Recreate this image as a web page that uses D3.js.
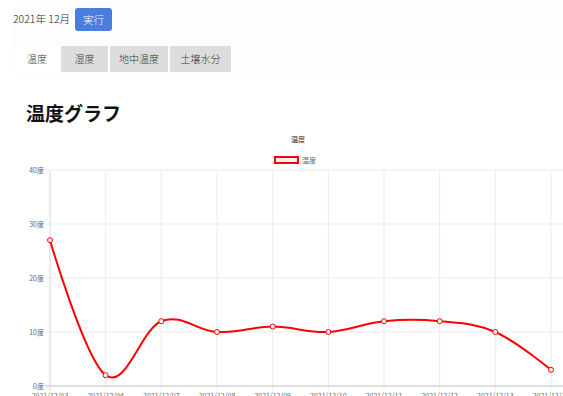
<!DOCTYPE html>
<html>
<head>
<meta charset="utf-8">
<script src="https://cdn.jsdelivr.net/npm/d3@7"></script>
<style>
  body { margin: 0; background: #fff; font-family: "Noto Sans CJK JP", "Noto Sans", sans-serif; }
  svg { position: absolute; left: 0; top: 0; }
</style>
</head>
<body>
<svg id="chart" width="563" height="396"></svg>
<script>
'use strict';

var labels = ['2021/12/03', '2021/12/04', '2021/12/07', '2021/12/08', '2021/12/09',
              '2021/12/10', '2021/12/11', '2021/12/12', '2021/12/13', '2021/12/14'];
var temps = [27, 2, 12, 10, 11, 10, 12, 12, 10, 3];
var yTicks = [0, 10, 20, 30, 40];
var tabs = ['温度', '湿度', '地中温度', '土壌水分'];
var tabWidths = [44, 47, 58, 61];

var svg = d3.select('#chart');
var jp = '"Noto Sans CJK JP", sans-serif';

// header panel
svg.append('rect').attr('x', 13).attr('y', 6).attr('width', 550).attr('height', 67).attr('fill', '#fdfdfd');

svg.append('text')
  .attr('x', 13).attr('y', 23)
  .attr('font-family', jp).attr('font-size', 10.5).attr('font-weight', 300).attr('fill', '#222')
  .text('2021年 12月');

svg.append('rect')
  .attr('x', 75).attr('y', 8).attr('width', 37).attr('height', 23).attr('rx', 3)
  .attr('fill', '#4a7ddf');
svg.append('text')
  .attr('x', 93.5).attr('y', 23.5).attr('text-anchor', 'middle')
  .attr('font-family', jp).attr('font-size', 10.5).attr('font-weight', 300).attr('fill', '#fff')
  .text('実行');

// tabs
var tx = 15;
tabs.forEach(function(t, i) {
  var w = tabWidths[i];
  svg.append('rect')
    .attr('x', tx).attr('y', 46).attr('width', w).attr('height', 26)
    .attr('fill', i === 0 ? '#fff' : '#dddddd');
  svg.append('text')
    .attr('x', tx + w / 2).attr('y', 62.5).attr('text-anchor', 'middle')
    .attr('font-family', jp).attr('font-size', 10).attr('font-weight', 300).attr('fill', '#333')
    .text(t);
  tx += w + 2;
});

// page title
svg.append('text')
  .attr('x', 26).attr('y', 121)
  .attr('font-family', jp).attr('font-size', 19).attr('font-weight', 'bold').attr('fill', '#111')
  .text('温度グラフ');

// chart
var x = d3.scalePoint().domain(labels).range([50, 551]);
var y = d3.scaleLinear().domain([0, 40]).range([386, 170]);

var grid = svg.append('g');
grid.selectAll('line.v').data(labels).enter().append('line')
  .attr('x1', function(d) { return x(d); }).attr('x2', function(d) { return x(d); })
  .attr('y1', y(40)).attr('y2', y(0) + 5)
  .attr('stroke', function(d, i) { return i === 0 ? '#d4d4d4' : '#ebebeb'; })
  .attr('stroke-width', 1);
grid.selectAll('line.h').data(yTicks).enter().append('line')
  .attr('x1', 45).attr('x2', 563)
  .attr('y1', function(d) { return y(d); }).attr('y2', function(d) { return y(d); })
  .attr('stroke', function(d) { return d === 0 ? '#d4d4d4' : '#ebebeb'; })
  .attr('stroke-width', function(d) { return d === 0 ? 1.5 : 1; });

svg.append('g').selectAll('text').data(yTicks).enter().append('text')
  .attr('x', 44).attr('y', function(d) { return y(d) + 2.5; })
  .attr('text-anchor', 'end')
  .attr('font-family', jp).attr('font-size', 7).attr('fill', '#666')
  .text(function(d) { return d + '度'; });

svg.append('g').selectAll('text').data(labels).enter().append('text')
  .attr('x', function(d) { return x(d); }).attr('y', 398)
  .attr('text-anchor', 'middle')
  .attr('font-family', jp).attr('font-size', 7).attr('fill', '#666')
  .text(function(d) { return d; });

// title + legend
svg.append('text')
  .attr('x', 298).attr('y', 142).attr('text-anchor', 'middle')
  .attr('font-family', jp).attr('font-size', 7).attr('font-weight', 'bold').attr('fill', '#666')
  .text('温度');
svg.append('rect')
  .attr('x', 275).attr('y', 157).attr('width', 23).attr('height', 6)
  .attr('fill', 'rgba(255,0,0,0.05)').attr('stroke', 'red').attr('stroke-width', 2);
svg.append('text')
  .attr('x', 302).attr('y', 163)
  .attr('font-family', jp).attr('font-size', 7).attr('fill', '#666')
  .text('温度');

var line = d3.line()
  .x(function(d, i) { return x(labels[i]); })
  .y(function(d) { return y(d); })
  .curve(d3.curveCardinal.tension(-0.1));

svg.append('path').datum(temps)
  .attr('d', line)
  .attr('fill', 'none').attr('stroke', 'red').attr('stroke-width', 2);

svg.append('g').selectAll('circle').data(temps).enter().append('circle')
  .attr('cx', function(d, i) { return x(labels[i]); })
  .attr('cy', function(d) { return y(d); })
  .attr('r', 2.5)
  .attr('fill', '#fff3f3').attr('stroke', 'red').attr('stroke-width', 1);
</script>
</body>
</html>
